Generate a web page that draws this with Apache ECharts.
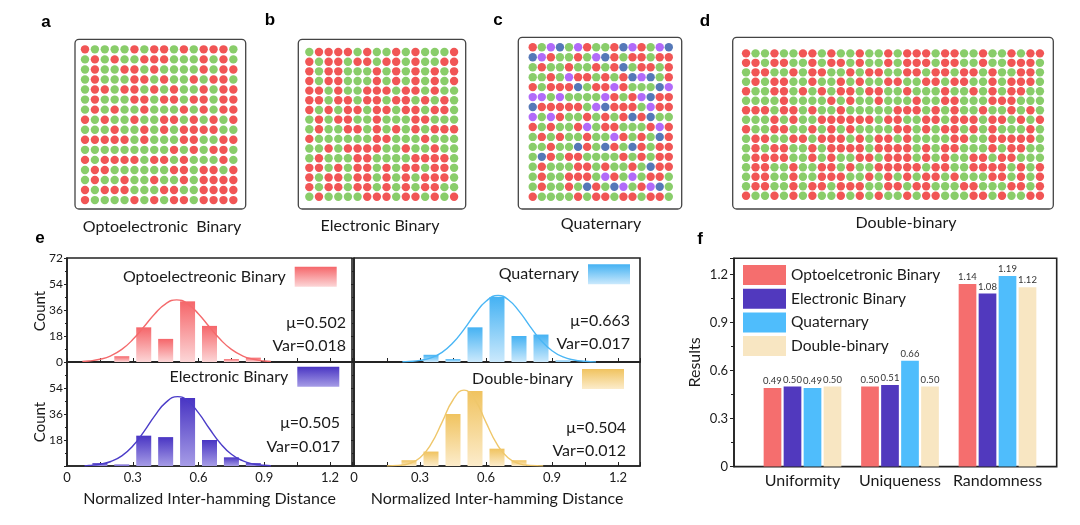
<!DOCTYPE html>
<html><head><meta charset="utf-8">
<script src="https://cdn.jsdelivr.net/npm/echarts/dist/echarts.min.js"></script>
<style>html,body{margin:0;padding:0;background:#fff}#c{width:1080px;height:525px}</style>
</head><body><div id="c"></div><script>
// ---------- data: dot matrices (R red, G green, P purple, B blue) ----------
const gridA = [
'RGGGGRGRRGRGRRRG','GRGRGGRRRGGGRGRG','GRGGRRGRGGGGRGRR','GRGGGRRGRGGRGRRG',
'GRRGRRGRGRGGRGRR','GRGGGRRGRRGRRGRR','GRGRGGRGGGRGRGRR','RGRGGRGGRRGRGRGR',
'GGGRGGRGRGRRRRGG','RRRRRGRGGGRRGGRR','GGGGGGGGGRGRGRRG','RGRRRRGRRGRGGGRG',
'GRRGGGGGGRRGRRGR','GRGGRGGRGGRGRRRR','RGRRRGGGRRGGRRRR','RGGGGRGRGRRGRRRR'];
const gridB = [
'GRRRRGRGGRGRGGGR','RGRRGRRGRRGRGGRR','RGRRGGGRGRGRGRGR','RGRRGGGRGRGRGRGR',
'RRGRGGRRRGRRGRGG','RRGRRGRRGRRGRGRG','RGRGRRGRRGRRGRRG','GRGRRGGRGGGRRGGG',
'GRGGRRGRGRGRGRRR','RGGGGGGRRGGGRGGG','GGRGRRRRGGRGGRGG','GRGGGRRGGGGRRRRG',
'RRGRGRRGRGRRGRRG','RGRRGRRGRGRGRRRG','RGRRGRRGRGRGRRGG','GRGGGGRRRGRRGRGR'];
const gridC = [
'RGPBGPRGGRBPRGPB','BPRGGRGPBRGRRGRR','GRGGRGGRGRBGRRGR','GGRGPRRGRGRBPBGR',
'RGRRRBGRRPRGGGBP','PPGPGGGGPRGRPBRR','BRRRRRGPBRRRGPRR','PGPRGGRGRGRBRBGG',
'RGRGGRPGRRGGGRPR','GRGRGGRGGPRGRGBR','GGRGGBRGBRGBRGRR','GBRGRRGGGGRGRGRR',
'GRGGGRRGRGGRGBRR','GRGGRRRGPRGPGRRG','GRGGRGBRGBPGRPBG','RGGGGRGRRGRRGRRG'];
const gridD = [
'RGGRGGRRGRGGRGGRGRRRGRRGGRGGRGRR','RRGRRGGRGRRGRGGRGRRRGRRGGRGGRRRG',
'GRRGGRGRRGGRGRRGGRRGRRGRRGRGGRRG','GRGRRGGRGGRGRGGRRGGRRGRRGGRGRRRG',
'RGGRRGRGRGRRGRRGGRGGGRGGRGRGRRGG','GGGGRGGGGRGRGGRGGGRGGRRGGGRRRGGG',
'RRRGRRGRGGRGGGGGRRRGRGRGGRGGRGRG','GGGRGRGGRRRRRRGRRGGRRGRRRGRRGRGR',
'RGGRRGGRGRGRGGGGRRGRGRRGRGRGGGRG','GRRGGRRGRRRGRGRRGRGGGGRRGGRRRRRG',
'GRGRRGGRGRRRRGRRRRGRGRRGGGRGRRGG','GRRRRGGRGRGGRRGRRRGRGRGGRRGRRGGG',
'GRRGGRGGRRGRGGRRRRRGRRGGRRRRGRGR','GRRGGRGGRRRGGRGRGRGRRGRGGGRRGRGR',
'GRRGGRGRRGRRRGGRRGRRGGGRRGGGRRGR','RGGRGRGRGGRGRGRGGRGRRGGGRRGRGGRR'];
const panelCaptions = ['Optoelectronic  Binary','Electronic Binary','Quaternary','Double-binary'];

// ---------- data: histograms (e) ----------
const histNames = ['Optoelectreonic Binary','Quaternary','Electronic Binary','Double-binary'];
const histX_opto = [0.25,0.35,0.45,0.55,0.65,0.75,0.85];
const histY_opto = [4,24,16,42,25,2,3];
const histX_quat = [0.35,0.45,0.55,0.65,0.75,0.85,0.95];
const histY_quat = [5,2,24,45,18,19,1];
const histX_elec = [0.15,0.25,0.35,0.45,0.55,0.65,0.75,0.85];
const histY_elec = [2,1,21,20,47,18,6,2];
const histX_dbl = [0.25,0.35,0.45,0.55,0.65,0.75];
const histY_dbl = [4,10,36,52,12,4];
const fitX_opto = [0.07,0.10,0.15,0.20,0.25,0.30,0.35,0.40,0.45,0.50,0.55,0.60,0.65,0.70,0.75,0.80,0.85,0.90,0.93];
const fitY_opto = [0.4,0.7,1.9,4.3,8.7,15.5,24.2,33.3,40.3,43,40.3,33.3,24.2,15.5,8.7,4.3,1.9,0.7,0.4];
const fitX_quat = [0.22,0.25,0.30,0.35,0.40,0.45,0.50,0.55,0.60,0.655,0.70,0.75,0.80,0.85,0.90,0.95,1.00,1.05,1.10];
const fitY_quat = [0.2,0.4,1.1,2.9,6.7,13.3,22.6,33.2,42.1,46,43.3,35.2,24.7,14.9,7.8,3.5,1.4,0.5,0.1];
const fitX_elec = [0.08,0.10,0.15,0.20,0.25,0.30,0.35,0.40,0.45,0.505,0.55,0.60,0.65,0.70,0.75,0.80,0.85,0.90,0.93];
const fitY_elec = [0.2,0.4,1.2,3.1,7.0,13.8,23.6,34.7,43.9,48,45.2,36.8,25.8,15.6,8.1,3.7,1.4,0.5,0.2];
const fitX_dbl = [0.15,0.20,0.25,0.30,0.35,0.40,0.45,0.50,0.55,0.60,0.65,0.70,0.75,0.80,0.86];
const fitY_dbl = [0.1,0.4,1.7,5.7,15.1,30.2,45.7,52.5,45.7,30.2,15.1,5.7,1.7,0.4,0.1];
const muText = ['μ=0.502','μ=0.663','μ=0.505','μ=0.504'];
const varText = ['Var=0.018','Var=0.017','Var=0.017','Var=0.012'];
const histXTicks = [0, 0.3, 0.6, 0.9, 1.2];
const histYTicks = [0, 18, 36, 54, 72];

// ---------- data: bar chart (f) ----------
const fCats = ['Uniformity','Uniqueness','Randomness'];
const fNames = ['Optoelcetronic Binary','Electronic Binary','Quaternary','Double-binary'];
const fOpto = [0.49,0.50,1.14];
const fElec = [0.50,0.51,1.08];
const fQuat = [0.49,0.66,1.19];
const fDbl  = [0.50,0.50,1.12];
const fYTicks = [0, 0.3, 0.6, 0.9, 1.2];

// ---------- styles ----------
const FONT = 'Lato';
const INK = '#1a1a1a';
const dotColors = {R:'#EE2A2A', G:'#6CC045', P:'#9D45F7', B:'#2A56A6'};
const histStyle = [
  {line:'#F46A6C', top:'#F5666A', bot:'#FCD6D7'},
  {line:'#4AB6F5', top:'#45B2F3', bot:'#CBE9FC'},
  {line:'#4B3CC8', top:'#4935C3', bot:'#A69CE6'},
  {line:'#EFC76B', top:'#F0C35F', bot:'#FCECCB'}];
const fColors = ['#F56E6E','#5139BE','#4FBDFC','#F8E6C2'];

const grad = (t,b) => new echarts.graphic.LinearGradient(0,0,0,1,[{offset:0,color:t},{offset:1,color:b}]);

// dot panel geometry: [left, top, cellW, cellH]
const dotGeo = [[80.05,44.3,9.89,10.05],[304.5,47.2,9.65,9.65],[528.2,42.3,9.07,9.96],[741.3,48.6,9.48,9.49]];
const dotFrames = [[75,39.3,170.7,169.7],[298.3,39.3,167.4,169.7],[518.3,37.3,163.4,171.7],[732.7,37.3,320.6,171.7]];
const captionPos = [[162,227],[380,226],[601,224],[906,223]];
const dotMats = [gridA, gridB, gridC, gridD];

const grids = [], xAxes = [], yAxes = [], series = [], graphics = [], legends = [];

dotMats.forEach((m, k) => {
  const cols = m[0].length, rows = m.length, g = dotGeo[k];
  grids.push({left:g[0], top:g[1], width:cols*g[2], height:rows*g[3], outerBoundsMode:'none'});
  xAxes.push({gridIndex:k, type:'value', min:-0.5, max:cols-0.5, show:false});
  yAxes.push({gridIndex:k, type:'value', min:-0.5, max:rows-0.5, inverse:true, show:false});
  const data = [];
  m.forEach((row, r) => row.split('').forEach((ch, c) => data.push({value:[c, r], itemStyle:{color:dotColors[ch]}})));
  series.push({type:'scatter', xAxisIndex:k, yAxisIndex:k, symbolSize:8.4, data, silent:true, animation:false});
  const f = dotFrames[k];
  graphics.push({type:'rect', shape:{x:f[0], y:f[1], width:f[2], height:f[3], r:4}, style:{fill:'none', stroke:'#444', lineWidth:1.3}, z:10});
  graphics.push({type:'text', x:captionPos[k][0], y:captionPos[k][1], style:{text:panelCaptions[k], font:'16px '+FONT, fill:INK, align:'center', verticalAlign:'middle', textAlign:'center', textVerticalAlign:'middle'}});
});

// histogram panels
const hGeo = [[67,258,285,104],[354,258,286,104],[67,362,285,104],[354,362,286,104]];
const hBars = [[histX_opto,histY_opto],[histX_quat,histY_quat],[histX_elec,histY_elec],[histX_dbl,histY_dbl]];
const hFits = [[fitX_opto,fitY_opto],[fitX_quat,fitY_quat],[fitX_elec,fitY_elec],[fitX_dbl,fitY_dbl]];
const legendPos = [[336.7,266.7],[630,264.3],[339.3,366.7],[624,369]];
const statPos = [[346,322.7,346],[630,321,344.3],[340,423.3,447.3],[626,428.3,450.7]];
const onTick = (ticks) => (v) => { const t = ticks.find(t => Math.abs(t - v) < 1e-6); return t === undefined ? '' : (t === 0 ? '0' : String(t)); };
const fmt1 = (ticks) => (v) => { const t = ticks.find(t => Math.abs(t - v) < 1e-6); return t === undefined ? '' : (t === 0 ? '0' : t.toFixed(1)); };

hGeo.forEach((g, i) => {
  const gi = 4 + i, isLeft = (i % 2 === 0), isBottom = i >= 2;
  grids.push({left:g[0], top:g[1], width:g[2], height:g[3], show:true, borderColor:'#222', borderWidth:1.6, backgroundColor:'transparent', outerBoundsMode:'none'});
  xAxes.push({gridIndex:gi, type:'value', min:0, max:1.3, interval:0.3,
    axisLine:{show:true, lineStyle:{color:'#222', width:1.6}},
    axisTick:{show:true, inside:true, length:4, lineStyle:{color:'#222', width:1}},
    minorTick:{show:true, splitNumber:2, length:4, lineStyle:{color:'#222', width:1}},
    splitLine:{show:false}, minorSplitLine:{show:false},
    axisLabel:{show:isBottom, formatter:fmt1(histXTicks), fontFamily:FONT, fontSize:13, color:INK, margin:5},
    name:isBottom ? 'Normalized Inter-hamming Distance' : '', nameLocation:'middle', nameGap:25,
    nameTextStyle:{fontFamily:FONT, fontSize:16, color:INK}});
  yAxes.push({gridIndex:gi, type:'value', min:0, max:72, interval:18,
    axisLine:{show:true, lineStyle:{color:'#222', width:1.6}},
    axisTick:{show:true, inside:false, length:3, lineStyle:{color:'#222', width:1}},
    minorTick:{show:true, splitNumber:2, length:2, lineStyle:{color:'#222', width:1}},
    splitLine:{show:false}, minorSplitLine:{show:false},
    axisLabel:{show:isLeft, showMinLabel:!isBottom, showMaxLabel:!isBottom, formatter:onTick(histYTicks), fontFamily:FONT, fontSize:12, color:INK, margin:4}});
  const st = histStyle[i];
  const [bx, by] = hBars[i];
  series.push({type:'bar', name:'e:' + histNames[i], xAxisIndex:gi, yAxisIndex:gi, barWidth:15,
    data:bx.map((x, j) => [x, by[j]]), itemStyle:{color:grad(st.top, st.bot)}, animation:false, silent:true});
  const [fx, fy] = hFits[i];
  series.push({type:'line', name:'fit' + i, xAxisIndex:gi, yAxisIndex:gi, smooth:true, symbol:'none',
    data:fx.map((x, j) => [x, fy[j]]), lineStyle:{color:st.line, width:1.4}, z:3, animation:false, silent:true});
  legends.push({data:['e:' + histNames[i]], formatter:n => n.replace(/^e:/, ''), right:1080 - legendPos[i][0], top:legendPos[i][1],
    align:'right', orient:'horizontal', icon:'rect', itemWidth:42, itemHeight:20, padding:0, selectedMode:false,
    textStyle:{fontFamily:FONT, fontSize:16, color:INK, padding:[0,4,0,0]}});
  const sp = statPos[i];
  graphics.push({type:'text', x:sp[0], y:sp[1], style:{text:muText[i], font:'16px '+FONT, fill:INK, align:'right', verticalAlign:'middle', textAlign:'right', textVerticalAlign:'middle'}});
  graphics.push({type:'text', x:sp[0], y:sp[2], style:{text:varText[i], font:'16px '+FONT, fill:INK, align:'right', verticalAlign:'middle', textAlign:'right', textVerticalAlign:'middle'}});
});

// "Count" titles
[[40,311],[40,422]].forEach(([x,y]) => {
  graphics.push({type:'text', x, y, rotation:Math.PI/2, style:{text:'Count', font:'15px '+FONT, fill:INK, align:'center', verticalAlign:'middle', textAlign:'center', textVerticalAlign:'middle'}});
});

// f: frame grid (8) and bars grid (9)
grids.push({left:734, top:258.3, width:322.7, height:208.3, show:true, borderColor:'#222', borderWidth:1.6, backgroundColor:'transparent', outerBoundsMode:'none'});
xAxes.push({gridIndex:8, type:'value', min:0, max:1, show:false});
yAxes.push({gridIndex:8, type:'value', min:0, max:1.3, interval:0.3,
  axisLine:{show:true, lineStyle:{color:'#222', width:1.6}},
  axisTick:{show:true, inside:false, length:4, lineStyle:{color:'#222'}},
  minorTick:{show:true, splitNumber:2, length:3, lineStyle:{color:'#222'}},
  splitLine:{show:false}, minorSplitLine:{show:false},
  axisLabel:{formatter:fmt1(fYTicks), fontFamily:FONT, fontSize:13, color:INK, margin:6},
  name:'Results', nameLocation:'middle', nameGap:31, nameTextStyle:{fontFamily:FONT, fontSize:16, color:INK}});
grids.push({left:753.75, top:258.3, width:292.5, height:208.3, outerBoundsMode:'none'});
xAxes.push({gridIndex:9, type:'category', data:fCats, axisLine:{show:false}, axisTick:{show:false},
  axisLabel:{interval:0, hideOverlap:false, fontFamily:FONT, fontSize:16, color:INK, margin:6}});
yAxes.push({gridIndex:9, type:'value', min:0, max:1.3, show:false});
const fX = 9, fY = yAxes.length - 1;
[fOpto, fElec, fQuat, fDbl].forEach((vals, k) => {
  series.push({type:'bar', name:fNames[k], xAxisIndex:fX, yAxisIndex:fY, data:vals, barWidth:17.7, barGap:'13%',
    itemStyle:{color:fColors[k]}, animation:false, silent:true,
    label:{show:true, position:'top', distance:2, formatter:p => p.value.toFixed(2), fontFamily:FONT, fontSize:9.5, color:'#333'}});
});
legends.push({data:fNames, left:743, top:265, orient:'vertical', icon:'rect', itemWidth:43, itemHeight:20, itemGap:3.7, padding:0,
  selectedMode:false, textStyle:{fontFamily:FONT, fontSize:15.5, color:INK}});

// panel letters
[['a',46,22],['b',270,20],['c',498,20],['d',705,21],['e',40,238],['f',700,239]].forEach(([t,x,y]) => {
  graphics.push({type:'text', x, y, style:{text:t, font:'bold 17px "Liberation Sans"', fill:'#000', align:'center', verticalAlign:'middle', textAlign:'center', textVerticalAlign:'middle'}});
});

const chart = echarts.init(document.getElementById('c'), null, {renderer:'canvas'});
chart.setOption({animation:false, backgroundColor:'#fff', grid:grids, xAxis:xAxes, yAxis:yAxes, series, legend:legends, graphic:graphics});
</script></body></html>
